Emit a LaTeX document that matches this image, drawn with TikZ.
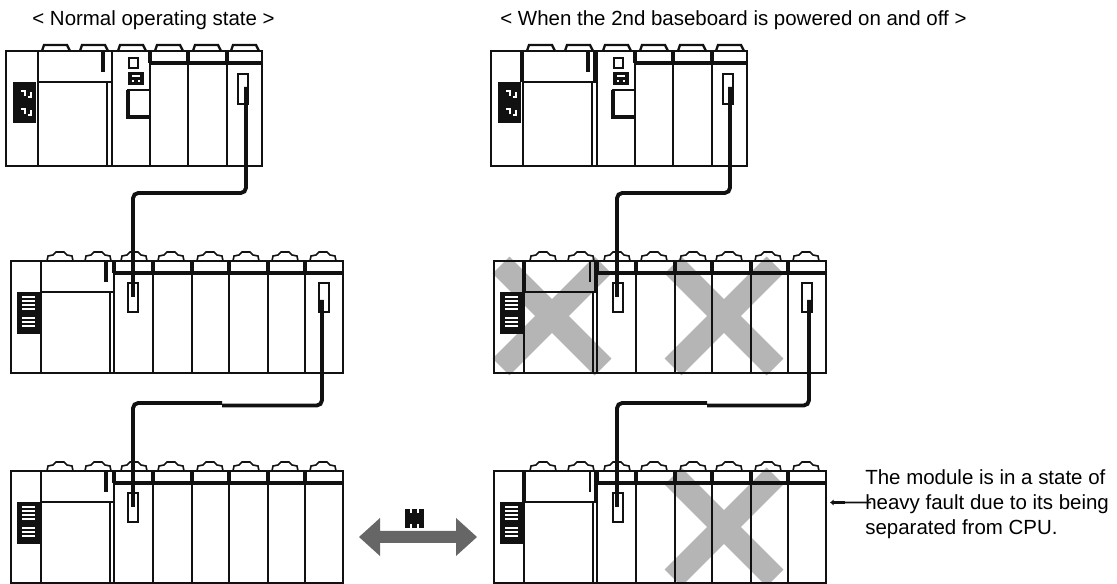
\documentclass[tikz,border=0pt]{standalone}
\usepackage{fontspec}
\setmainfont{Liberation Sans}
\usetikzlibrary{arrows.meta, calc}
\definecolor{rackBlack}{HTML}{111111}
\definecolor{crossGrey}{HTML}{B5B5B5}
\definecolor{linkGrey}{HTML}{666666}
\tikzset{
  % one unit of the picture is one pixel of the reference
  rackline/.style  = {rackBlack, line width=1.05pt},
  heavyline/.style = {rackBlack, line width=1.9pt},
  tabline/.style   = {rackBlack, line width=0.9pt},
  cable/.style     = {rackBlack, line width=2.2pt, rounded corners=3pt},
  crossband/.style = {crossGrey, line width=13.6pt},
  panelmark/.style = {white, line width=0.6pt},
  lbl/.style       = {font=\fontsize{11.65pt}{14.2pt}\selectfont, inner sep=0pt},
  % six slot baseboard with the CPU modules, drawn from its upper left corner
  sixrack/.pic = {
    \draw[rackline] (0,0) rectangle (256,115);
    \foreach \x in {32,106,144,182,221} \draw[rackline] (\x,0) -- (\x,115);
    \draw[rackline] (32,31) -- (106,31) (101,31) -- (101,115);
    \foreach \x in {36,74,112,149,187,225}
      \draw[tabline, line width=1.3pt] (\x,0) -- (\x+2,-6) -- (\x+25,-6) -- (\x+28,0);
    \draw[heavyline] (144,12) -- (256,12);
    \foreach \x in {144,182,221} \draw[heavyline] (\x,0) -- (\x,12);
    \draw[heavyline] (97,1) -- (97,21);
    % black panel and the second module
    \fill[rackBlack] (7,31) rectangle (30,72);
    \foreach \y in {40,58} {
      \draw[panelmark] (15,\y) -- (19,\y) -- (19,\y+5) (22,\y+6) -- (25,\y+6) -- (25,\y+1);
    }
    \draw[rackline] (123,7) rectangle (132,17);
    \fill[rackBlack] (122,21) rectangle (138,34);
    \draw[panelmark] (126,25) -- (134,25) (126,30) -- (128,30) (132,30) -- (134,30);
    \draw[rackline] (122,39) rectangle (144,66);
    \draw[heavyline] (122,39) -- (122,66) -- (144,66);
  },
  % eight slot baseboard, drawn from its upper left corner
  eightrack/.pic = {
    \draw[rackline] (0,0) rectangle (332,112);
    \foreach \x in {30,103,142,181,218,257,294} \draw[rackline] (\x,0) -- (\x,112);
    \draw[rackline] (30,31) -- (103,31) (99,31) -- (99,112);
    \foreach \x in {36,74,110,147,186,222,261,299}
      \draw[tabline] (\x,0) -- (\x+1,-5) -- (\x+6,-6) -- (\x+9,-9) -- (\x+17,-9)
        -- (\x+20,-6) -- (\x+25,-5) -- (\x+26,0);
    \draw[heavyline] (103,12) -- (332,12);
    \foreach \x in {103,142,181,218,257,294} \draw[heavyline] (\x,0) -- (\x,12);
    \fill[rackBlack] (6,31) rectangle (29,73);
    \foreach \y in {36,40,44,48,57,61,65} \draw[panelmark] (11,\y) -- (24,\y);
  },
}
\begin{document}
\begin{tikzpicture}[x=0.02cm,y=-0.02cm]
  \useasboundingbox (0,0) rectangle (1117,584);
  % --- titles ---------------------------------------------------------------
  \node[lbl, anchor=west] (titlel) at (32,20) {< Normal operating state >};
  \node[lbl, anchor=west] (titler) at (500,20) {< When the 2nd baseboard is powered on and off >};
  % --- crossed out modules, below the outlines -------------------------------
  \foreach \cx/\cy in {552/316, 724/316, 724/527} {
    \draw[crossband] (\cx-51,\cy-51) -- (\cx+51,\cy+51);
    \draw[crossband] (\cx+51,\cy-51) -- (\cx-51,\cy+51);
  }
  % --- baseboards ------------------------------------------------------------
  \pic at (6,51) {sixrack};
  \pic at (491,51) {sixrack};
  \foreach \x in {11,494} \foreach \y in {261,471} \pic at (\x,\y) {eightrack};
  % differences between the two columns
  \draw[heavyline] (522,51) -- (522,82) (595,51) -- (595,82);
  \foreach \y in {261,471} {
    \draw[heavyline] (106,\y+1) -- (106,\y+21);
    \draw[rackline] (590,\y+1) -- (590,\y+21);
    \draw[heavyline] (524,\y) -- (524,\y+31);
    \draw[heavyline] (596,\y) -- (596,\y+31);
  }
  % --- connector slots -------------------------------------------------------
  \foreach \x/\y in {238/74, 723/74} \draw[rackline] (\x,\y) rectangle (\x+10,\y+30);
  \foreach \x/\y in {128/283, 319/283, 128/493, 613/283, 802/283, 613/493}
    \draw[rackline] (\x,\y) rectangle (\x+10,\y+29);
  % --- cables ----------------------------------------------------------------
  \coordinate (ca) at (246,87);
  \coordinate (cb) at (133,297);
  \coordinate (cc) at (322,300);
  \coordinate (cd) at (133,507);
  \coordinate (ce) at (730,87);
  \coordinate (cf) at (617,297);
  \coordinate (cg) at (809,300);
  \coordinate (ch) at (617,507);
  \draw[cable] (ca) -- (246,193) -- (133,193) -- (cb);
  \draw[cable] (cc) -- (322,405.5) -- (222,405.5);
  \draw[cable] (222,403) -- (133,403) -- (cd);
  \draw[cable] (ce) -- (730,193) -- (617,193) -- (cf);
  \draw[cable] (cg) -- (809,405.5) -- (707,405.5);
  \draw[cable] (707,403) -- (617,403) -- (ch);
  % --- link between the two states -------------------------------------------
  \fill[linkGrey] (359,537) -- (380,518) -- (380,531) -- (456,531) -- (456,518)
    -- (477,537) -- (456,556) -- (456,543) -- (380,543) -- (380,556) -- cycle;
  \fill[rackBlack] (405,509) rectangle (424,528);
  \foreach \x in {411,418} \draw[panelmark, line width=0.8pt] (\x,509) -- (\x,513) (\x,524) -- (\x,528);
  % --- note ------------------------------------------------------------------
  \node[lbl, anchor=west, align=left] (note) at (865,504)
    {The module is in a state of\\heavy fault due to its being\\separated from CPU.};
  \coordinate (notetip) at (830,502.5);
  \coordinate (notestub) at (845,502.5);
  \draw[rackline] ($(note.west)+(6,-1.5)$) -- (notestub);
  \draw[heavyline, -{Latex[length=2pt, width=3.5pt]}] (notestub) -- (notetip);
\end{tikzpicture}
\end{document}
